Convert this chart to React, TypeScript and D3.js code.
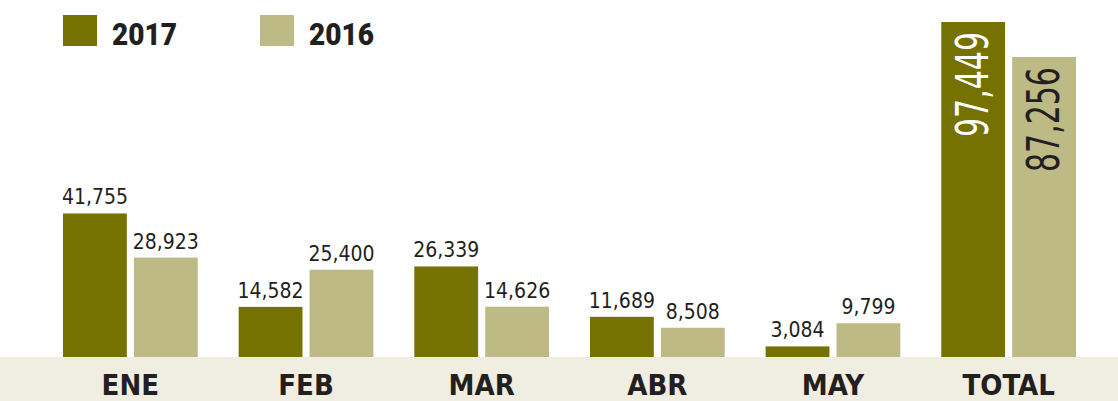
import { useRef, useEffect } from "react";
import * as d3 from "d3";

const categories = ["ENE", "FEB", "MAR", "ABR", "MAY", "TOTAL"];
const series = ["2017", "2016"];
const values2017 = [41755, 14582, 26339, 11689, 3084, 97449];
const values2016 = [28923, 25400, 14626, 8508, 9799, 87256];

const colors: Record<string, string> = { "2017": "#757202", "2016": "#bdba85" };

export default function App() {
  const ref = useRef<SVGSVGElement | null>(null);

  useEffect(() => {
    document.body.style.margin = "0";
    const svg = d3.select(ref.current);
    svg.selectAll("*").remove();

    const width = 1118;
    const height = 401;
    const baseline = 357;
    const fmt = d3.format(",");

    const x0 = d3
      .scaleBand()
      .domain(categories)
      .range([63, 1076])
      .paddingInner(0.233)
      .paddingOuter(0);

    const x1 = d3
      .scaleBand()
      .domain(series)
      .range([0, x0.bandwidth()])
      .paddingInner(0.1);

    const y = d3
      .scaleLinear()
      .domain([0, d3.max(values2017)!])
      .range([baseline, 22]);

    const rows = categories.map((c, i) => ({
      cat: c,
      bars: [
        { key: "2017", value: values2017[i] },
        { key: "2016", value: values2016[i] },
      ],
    }));

    // franja inferior
    svg
      .append("rect")
      .attr("x", 0)
      .attr("y", baseline)
      .attr("width", width)
      .attr("height", height - baseline)
      .attr("fill", "#f0ede1");

    const groups = svg
      .selectAll("g.grp")
      .data(rows)
      .join("g")
      .attr("class", "grp")
      .attr("transform", (d) => `translate(${x0(d.cat)},0)`);

    groups
      .selectAll("rect")
      .data((d) => d.bars)
      .join("rect")
      .attr("x", (d) => x1(d.key)!)
      .attr("y", (d) => y(d.value))
      .attr("width", x1.bandwidth())
      .attr("height", (d) => baseline - y(d.value))
      .attr("fill", (d) => colors[d.key]);

    // etiquetas de valor (meses)
    groups
      .filter((d) => d.cat !== "TOTAL")
      .selectAll("text.val")
      .data((d) => d.bars)
      .join("text")
      .attr("class", "val")
      .attr("x", (d) => x1(d.key)! + x1.bandwidth() / 2)
      .attr("y", (d) => y(d.value) - 9)
      .attr("text-anchor", "middle")
      .attr("font-family", "'DejaVu Sans Condensed', 'Liberation Sans Narrow', sans-serif")
      .attr("font-stretch", "condensed")
      .attr("font-size", 21)
      .attr("fill", "#231f20")
      .text((d) => fmt(d.value));

    // etiquetas verticales del total
    groups
      .filter((d) => d.cat === "TOTAL")
      .selectAll("text.tot")
      .data((d) => d.bars)
      .join("text")
      .attr("class", "tot")
      .attr("transform", (d) => `translate(${x1(d.key)! + x1.bandwidth() / 2 + 15},${y(d.value) + 10}) rotate(-90)`)
      .attr("text-anchor", "end")
      .attr("font-family", "'DejaVu Sans Condensed', 'Liberation Sans Narrow', sans-serif")
      .attr("font-stretch", "condensed")
      .attr("font-size", 44)
      .attr("textLength", 105)
      .attr("lengthAdjust", "spacingAndGlyphs")
      .attr("fill", (d) => (d.key === "2017" ? "#ffffff" : "#231f20"))
      .text((d) => fmt(d.value));

    // categorías
    svg
      .selectAll("text.cat")
      .data(categories)
      .join("text")
      .attr("class", "cat")
      .attr("x", (d) => x0(d)! + x0.bandwidth() / 2)
      .attr("y", 395)
      .attr("text-anchor", "middle")
      .attr("font-family", "'DejaVu Sans Condensed', sans-serif")
      .attr("font-stretch", "condensed")
      .attr("font-weight", "bold")
      .attr("font-size", 29)
      .attr("fill", "#231f20")
      .text((d) => d);

    // leyenda
    const legend = svg
      .selectAll("g.leg")
      .data(series)
      .join("g")
      .attr("class", "leg")
      .attr("transform", (d, i) => `translate(${63 + i * 197},15)`);

    legend
      .append("rect")
      .attr("width", 34)
      .attr("height", 31)
      .attr("fill", (d) => colors[d]);

    legend
      .append("text")
      .attr("x", 49)
      .attr("y", 30)
      .attr("font-family", "Roboto, sans-serif")
      .attr("font-weight", 900)
      .attr("font-size", 31)
      .attr("textLength", 65)
      .attr("lengthAdjust", "spacingAndGlyphs")
      .attr("fill", "#231f20")
      .text((d) => d);
  }, []);

  return <svg ref={ref} width={1118} height={401}></svg>;
}
